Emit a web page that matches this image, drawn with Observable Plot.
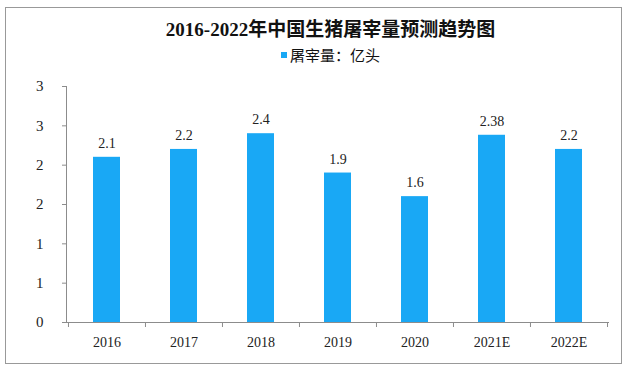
<!DOCTYPE html>
<html><head><meta charset="utf-8">
<script src="https://cdn.jsdelivr.net/npm/d3@7"></script>
<script src="https://cdn.jsdelivr.net/npm/@observablehq/plot@0.6"></script>
<style>
html,body{margin:0;padding:0;background:#fff;}
#wrap{position:relative;width:629px;height:371px;overflow:hidden;font-family:"Noto Sans CJK SC",sans-serif;}
#border{position:absolute;left:5px;top:7px;width:617px;height:357px;border:1px solid #999;box-sizing:border-box;}
#title{position:absolute;left:0;top:18px;width:661px;text-align:center;font-size:19px;font-weight:bold;color:#111;line-height:24px;font-family:"Liberation Serif","Noto Sans CJK SC",serif;}
#legend{position:absolute;left:0;top:45px;width:661px;text-align:center;font-size:15px;color:#111;line-height:20px;}
#legend .sw{display:inline-block;width:6px;height:6px;background:#19a8f5;margin-right:3px;vertical-align:middle;position:relative;top:-2px;}
#chart{position:absolute;left:0;top:70px;}
</style></head>
<body>
<div id="wrap">
<div id="border"></div>
<div id="title"></div>
<div id="legend"><span class="sw"></span><span id="legendText"></span></div>
<div id="chart"></div>
</div>
<script>
const titleText = "2016-2022年中国生猪屠宰量预测趋势图";
const seriesName = "屠宰量：亿头";
const categories = ["2016","2017","2018","2019","2020","2021E","2022E"];
const values = [2.1, 2.2, 2.4, 1.9, 1.6, 2.38, 2.2];
const valueLabels = ["2.1","2.2","2.4","1.9","1.6","2.38","2.2"];
const yTicks = [0, 0.5, 1, 1.5, 2, 2.5, 3];
const yTickLabels = ["0","1","1","2","2","3","3"];

document.getElementById("title").textContent = titleText;
document.getElementById("legendText").textContent = seriesName;

const data = categories.map((c, i) => ({cat: c, value: values[i], label: valueLabels[i]}));
const barColor = "#19a8f5";
const axisColor = "#8c8c8c";
const numFont = "'Liberation Serif', serif";

const plot = Plot.plot({
  width: 629,
  height: 290,
  marginLeft: 66,
  marginRight: 20,
  marginTop: 16,
  marginBottom: 38,
  style: {fontFamily: numFont, background: "transparent", overflow: "visible"},
  x: {domain: categories, paddingInner: 0.65, paddingOuter: 0.325, label: null},
  y: {domain: [0, 3], label: null},
  marks: [
    Plot.barY(data, {x: "cat", y: "value", fill: barColor}),
    Plot.text(data, {x: "cat", y: "value", text: "label", dy: -14, fontSize: 14, fill: "#222", style: "letter-spacing:1.5px"}),
    Plot.axisX({tickSize: 0, tickPadding: 15, fontSize: 14, fill: "#222"}),
    Plot.axisY({ticks: yTicks, tickFormat: (d, i) => yTickLabels[i], tickSize: 4, tickPadding: 19, fontSize: 15, fill: "#222", stroke: axisColor})
  ]
});
document.getElementById("chart").appendChild(plot);

// axis lines and category boundary ticks drawn from the library's scales
const xs = plot.scale("x");
const ys = plot.scale("y");
const svg = d3.select(plot);
const step = xs.step;
const x0 = xs.range[0], x1 = xs.range[1];
const yBase = ys.apply(0), yTop = ys.apply(3);
const g = svg.append("g").attr("stroke", axisColor).attr("stroke-width", 1);
g.append("line").attr("x1", x0 + 0.5).attr("x2", x0 + 0.5).attr("y1", yTop).attr("y2", yBase);
g.append("line").attr("x1", x0 - 4).attr("x2", x1).attr("y1", yBase + 0.5).attr("y2", yBase + 0.5);
const bounds = categories.map(c => xs.apply(c) - step * 0.325).concat([xs.apply(categories[categories.length - 1]) + xs.bandwidth + step * 0.325]);
bounds.forEach(b => g.append("line").attr("x1", b + 0.5).attr("x2", b + 0.5).attr("y1", yBase).attr("y2", yBase + 5));
</script>
</body></html>
